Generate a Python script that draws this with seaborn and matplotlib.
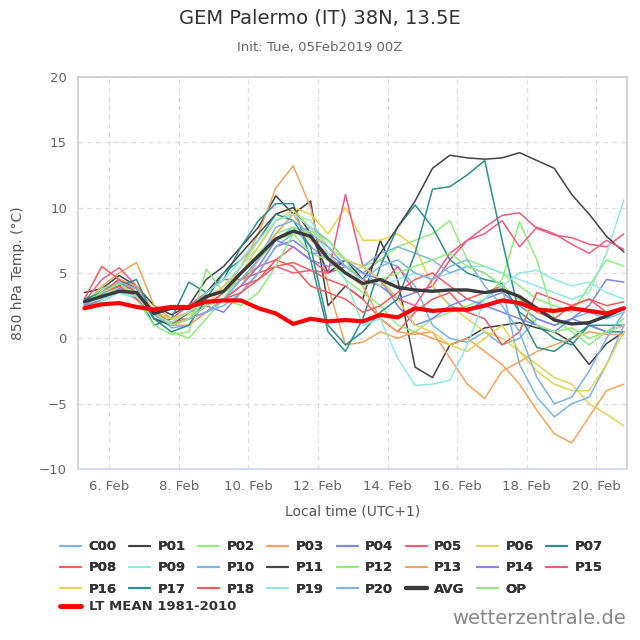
import pandas as pd
import numpy as np
import matplotlib
matplotlib.use("Agg")
import matplotlib.pyplot as plt
import matplotlib.dates as mdates
from matplotlib.lines import Line2D
import seaborn as sns

# 12-hourly steps, local time (UTC+1)
times = pd.date_range("2019-02-05 07:00", periods=32, freq="12h")

C00 = [2.8, 3.5, 4.0, 3.2, 1.5, 1.2, 2.0, 2.5, 3.0, 4.5, 6.0, 7.5, 8.5, 7.0, 6.0, 5.5, 5.0, 6.0, 5.5, 4.0, 1.0, 0.0, -0.3, 0.5, -0.5, 0.0, 1.5, 1.0, 1.5, 2.0, 1.5, 2.0]
P01 = [3.5, 3.8, 4.8, 4.0, 2.5, 1.8, 2.5, 4.5, 5.5, 7.0, 8.5, 10.9, 9.5, 10.5, 2.5, 4.0, 3.0, 7.5, 4.5, -2.2, -3.0, -0.5, 0.0, 0.8, 1.0, 1.2, 0.8, 0.5, -0.3, -2.0, -0.4, 0.5]
P02 = [2.5, 3.0, 4.0, 3.5, 1.5, 0.5, 0.0, 1.5, 3.0, 5.0, 6.5, 8.0, 8.5, 8.0, 6.0, 5.0, 5.5, 6.0, 7.0, 7.5, 8.0, 9.0, 6.0, 5.5, 5.0, 4.0, 3.0, 2.5, 2.0, 4.0, 6.0, 5.5]
P03 = [2.5, 4.0, 5.0, 5.8, 2.5, 1.5, 1.5, 2.5, 3.5, 5.5, 8.0, 11.5, 13.2, 10.0, 4.0, -0.5, -0.3, 0.5, 0.0, 0.5, 0.0, -0.5, 0.0, -1.0, -2.0, -3.5, -5.5, -7.3, -8.0, -6.0, -4.0, -3.5]
P04 = [2.8, 3.5, 4.5, 4.0, 2.0, 1.5, 2.0, 2.5, 2.0, 3.5, 5.0, 7.0, 7.5, 6.5, 6.5, 5.5, 5.0, 4.0, 3.0, 3.5, 4.0, 2.5, 2.0, 3.0, 3.5, 2.5, 1.5, 1.0, 1.5, 2.5, 4.5, 4.3]
P05 = [2.8, 4.5, 5.4, 4.0, 2.0, 1.5, 2.5, 3.5, 4.5, 4.5, 5.5, 6.0, 7.0, 6.0, 5.0, 5.5, 4.5, 4.0, 5.5, 3.5, 4.0, 6.0, 7.5, 8.5, 9.4, 9.6, 8.4, 7.9, 7.7, 7.2, 7.0, 8.0]
P06 = [2.5, 3.5, 4.0, 3.8, 1.8, 1.5, 1.8, 2.5, 4.0, 5.5, 7.5, 9.5, 10.0, 9.5, 8.0, 10.0, 7.5, 7.5, 8.0, 7.0, 4.0, 2.5, 1.5, 0.5, 0.0, -1.0, -2.0, -3.0, -3.5, -5.0, -5.8, -6.7]
P07 = [2.5, 3.8, 4.2, 3.5, 1.0, 1.5, 4.3, 3.5, 4.5, 7.0, 9.0, 10.3, 10.3, 6.0, 0.5, -1.0, 1.5, 5.5, 8.5, 10.2, 8.5, 6.0, 5.0, 4.5, 4.2, 2.0, 1.0, 0.0, -0.5, 1.0, 0.5, 0.5]
P08 = [3.0, 5.5, 4.5, 3.5, 1.5, 1.0, 1.5, 2.5, 3.5, 4.5, 5.0, 5.5, 5.8, 5.2, 4.5, 4.0, 3.0, 1.5, 0.5, 2.0, 3.0, 3.5, 2.0, 1.5, -0.5, 0.5, 3.5, 3.0, 2.5, 3.0, 2.5, 2.8]
P09 = [2.4, 2.8, 3.5, 3.0, 1.5, 1.0, 1.5, 3.0, 4.0, 5.5, 7.0, 9.0, 9.5, 9.0, 7.0, 5.5, 5.0, 4.0, 4.5, 5.0, 4.5, 5.0, 5.5, 5.5, 5.0, 4.5, 4.0, 3.5, 3.0, 3.5, 6.5, 10.6]
P10 = [2.5, 3.2, 4.0, 3.5, 2.0, 0.8, 1.0, 2.0, 2.5, 3.5, 5.0, 7.0, 8.0, 8.5, 7.5, 6.0, 5.5, 6.5, 7.0, 6.5, 6.0, 5.0, 5.5, 5.0, 4.0, -2.0, -4.5, -6.0, -5.0, -4.5, -2.0, 1.0]
P11 = [3.0, 3.3, 4.5, 3.8, 1.5, 1.0, 2.0, 3.5, 5.0, 6.5, 8.0, 9.5, 10.0, 8.0, 5.0, 6.0, 4.5, 6.5, 8.5, 10.5, 13.0, 14.0, 13.8, 13.7, 13.8, 14.2, 13.6, 13.0, 11.0, 9.5, 7.8, 6.6]
P12 = [2.6, 3.8, 4.2, 3.0, 1.0, 0.3, 0.5, 5.3, 3.5, 4.5, 6.0, 7.5, 8.0, 6.5, 6.0, 4.5, 3.5, 2.5, 1.0, 0.5, 1.5, 2.0, 2.5, 3.0, 4.5, 8.9, 6.0, 1.5, 0.5, -0.5, 0.5, 1.5]
P13 = [2.2, 3.0, 4.5, 4.0, 2.0, 1.0, 1.0, 2.0, 3.0, 4.0, 6.0, 8.0, 9.5, 7.5, 6.5, 5.0, 4.0, 1.5, 0.5, 0.3, 0.5, -1.5, -3.5, -4.6, -2.5, -1.8, -1.0, -0.5, 0.0, 0.5, 0.3, 0.3]
P14 = [2.4, 3.0, 3.8, 3.5, 2.0, 1.0, 1.5, 2.0, 3.0, 4.0, 5.5, 7.5, 7.0, 6.0, 5.5, 6.0, 5.0, 4.5, 2.5, 1.0, 1.5, 2.5, 3.0, 2.5, 2.0, 1.5, 1.0, 0.5, 1.5, 1.0, 0.5, 1.0]
P15 = [2.5, 3.5, 4.5, 3.0, 2.0, 1.0, 1.5, 2.5, 3.0, 4.0, 4.5, 5.5, 5.0, 5.2, 5.0, 11.0, 5.5, 4.5, 3.0, 2.5, 4.5, 6.5, 7.5, 8.0, 9.0, 7.0, 8.5, 8.0, 7.2, 6.5, 7.5, 6.8]
P16 = [2.8, 3.2, 4.0, 3.5, 2.0, 1.5, 2.0, 3.0, 4.0, 5.0, 7.0, 9.0, 9.8, 8.5, 7.0, 6.0, 5.5, 4.5, 3.0, 1.0, 0.5, -0.5, -1.0, 0.0, 1.0, -1.0, -2.5, -3.5, -4.0, -4.0, -2.0, 0.5]
P17 = [3.0, 3.5, 4.0, 4.5, 1.5, 0.5, 1.0, 3.0, 5.0, 6.0, 7.5, 9.5, 9.0, 7.0, 1.0, -0.5, 0.5, 2.0, 3.0, 6.5, 11.4, 11.6, 12.5, 13.6, 7.5, 1.8, -0.7, -1.0, 0.0, 1.0, 1.0, 1.0]
P18 = [2.6, 3.5, 4.0, 3.0, 2.0, 1.2, 1.5, 2.0, 3.0, 3.5, 4.5, 6.0, 5.5, 4.0, 3.5, 3.0, 2.0, 2.5, 3.5, 4.5, 5.0, 4.0, 3.0, 3.5, 4.0, 3.0, 2.0, 1.5, 2.5, 3.0, 2.0, 2.2]
P19 = [2.7, 3.0, 3.5, 3.2, 1.8, 1.2, 2.0, 3.5, 4.5, 6.0, 7.5, 9.0, 9.5, 8.5, 6.5, 4.5, 1.0, 1.5, -1.5, -3.6, -3.5, -3.2, -0.5, 3.0, 4.0, 5.0, 5.2, 4.5, 4.0, 4.3, 3.5, 3.0]
P20 = [2.6, 3.3, 4.3, 3.8, 1.8, 1.0, 1.5, 2.0, 3.0, 4.5, 6.0, 8.5, 9.0, 8.0, 7.0, 5.5, 4.5, 5.5, 6.0, 5.0, 4.5, 5.5, 6.0, 4.0, 2.5, 0.5, -3.0, -5.0, -4.5, -2.5, 0.0, 2.0]
AVG = [2.8, 3.2, 3.6, 3.5, 1.9, 2.3, 2.3, 3.2, 3.6, 5.0, 6.3, 7.6, 8.2, 7.8, 6.1, 5.0, 4.2, 4.5, 3.9, 3.7, 3.6, 3.7, 3.7, 3.5, 3.7, 3.2, 2.3, 1.4, 1.1, 1.2, 1.7, 2.3]
OP = [2.7, 3.5, 4.2, 3.3, 2.0, 1.0, 1.5, 2.5, 3.0, 2.5, 3.5, 5.5, 8.0, 8.2, 7.5, 6.0, 4.0, 4.5, 5.0, 5.5, 6.0, 6.5, 5.5, 5.0, 4.0, 3.0, 1.0, 0.5, 0.8, 0.0, 0.5, 1.0]
LT_MEAN = [2.3, 2.6, 2.7, 2.4, 2.2, 2.4, 2.4, 2.8, 2.9, 2.9, 2.3, 1.9, 1.1, 1.5, 1.3, 1.4, 1.3, 1.8, 1.6, 2.3, 2.1, 2.2, 2.2, 2.5, 2.9, 2.7, 2.2, 2.1, 2.3, 2.1, 1.9, 2.3]

members = ["C00"] + ["P%02d" % i for i in range(1, 21)]
member_values = [C00, P01, P02, P03, P04, P05, P06, P07, P08, P09, P10,
                 P11, P12, P13, P14, P15, P16, P17, P18, P19, P20]
palette = ["#7cb5ec", "#434348", "#90ed7d", "#f7a35c", "#8085e9",
           "#f15c80", "#e4d354", "#2b908f", "#f45b5b", "#91e8e1"]

sns.set_style("white")
plt.rcParams["font.family"] = ["DejaVu Sans"]

fig = plt.figure(figsize=(6.4, 6.4), dpi=100)
ax = fig.add_axes([0.122, 0.267, 0.858, 0.613])

handles = []
for k, (name, vals) in enumerate(zip(members, member_values)):
    c = palette[k % 10]
    sns.lineplot(x=times, y=vals, ax=ax, color=c, lw=1.1)
    handles.append(Line2D([], [], color=c, lw=1.5, label=name))

sns.lineplot(x=times, y=OP, ax=ax, color="#90ed7d", lw=1.1)
sns.lineplot(x=times, y=AVG, ax=ax, color="#3a3a3e", lw=2.4)
sns.lineplot(x=times, y=LT_MEAN, ax=ax, color="#ff0000", lw=3.0)
handles.append(Line2D([], [], color="#3a3a3e", lw=3, label="AVG"))
handles.append(Line2D([], [], color="#90ed7d", lw=1.5, label="OP"))

ax.set_ylim(-10, 20)
ax.set_yticks(range(-10, 21, 5))
ax.set_xlim(pd.Timestamp("2019-02-05 02:40"), pd.Timestamp("2019-02-20 21:15"))
ax.set_xticks(pd.date_range("2019-02-06", "2019-02-20", freq="2D"))
ax.xaxis.set_major_formatter(mdates.DateFormatter("%-d. %b"))
ax.grid(True, color="#dddddd", ls=(0, (4, 3)), lw=0.9)
ax.tick_params(axis="both", length=0, colors="#666666", labelsize=9.5, pad=8)
for s in ax.spines.values():
    s.set_color("#cccccc")
    s.set_linewidth(1.2)
ax.spines["bottom"].set_color("#ccd6eb")
ax.set_xlabel("Local time (UTC+1)", color="#555555", fontsize=10, labelpad=8)
ax.set_ylabel("850 hPa Temp. (°C)", color="#555555", fontsize=10, labelpad=10)

fig.text(0.5, 0.972, "GEM Palermo (IT) 38N, 13.5E", ha="center", va="center",
         fontsize=14, color="#333333")
fig.text(0.5, 0.926, "Init: Tue, 05Feb2019 00Z", ha="center", va="center",
         fontsize=9.5, color="#666666")

# legend laid out row by row (matplotlib fills columns first)
rows = [handles[0:8], handles[8:16], handles[16:23]]
ordered = []
for j in range(8):
    for r in rows:
        if j < len(r):
            ordered.append(r[j])

legprops = dict(frameon=False, prop={"size": 9.5, "weight": "bold"},
                handlelength=1.6, handletextpad=0.55, borderaxespad=0,
                borderpad=0)
leg = fig.legend(handles=ordered, ncol=8, loc="upper left",
                 bbox_to_anchor=(0.094, 0.156), columnspacing=0.95,
                 labelspacing=0.62, **legprops)
for t in leg.get_texts():
    t.set_color("#333333")
leg2 = fig.legend(handles=[Line2D([], [], color="#ff0000", lw=3.5,
                                  label="LT MEAN 1981-2010")],
                  loc="upper left", bbox_to_anchor=(0.094, 0.062), **legprops)
leg2.get_texts()[0].set_color("#333333")
fig.add_artist(leg)

fig.text(0.978, 0.018, "wetterzentrale.de", ha="right", va="bottom",
         fontsize=14, color="#888888")

fig.savefig("out.png", dpi=100)
